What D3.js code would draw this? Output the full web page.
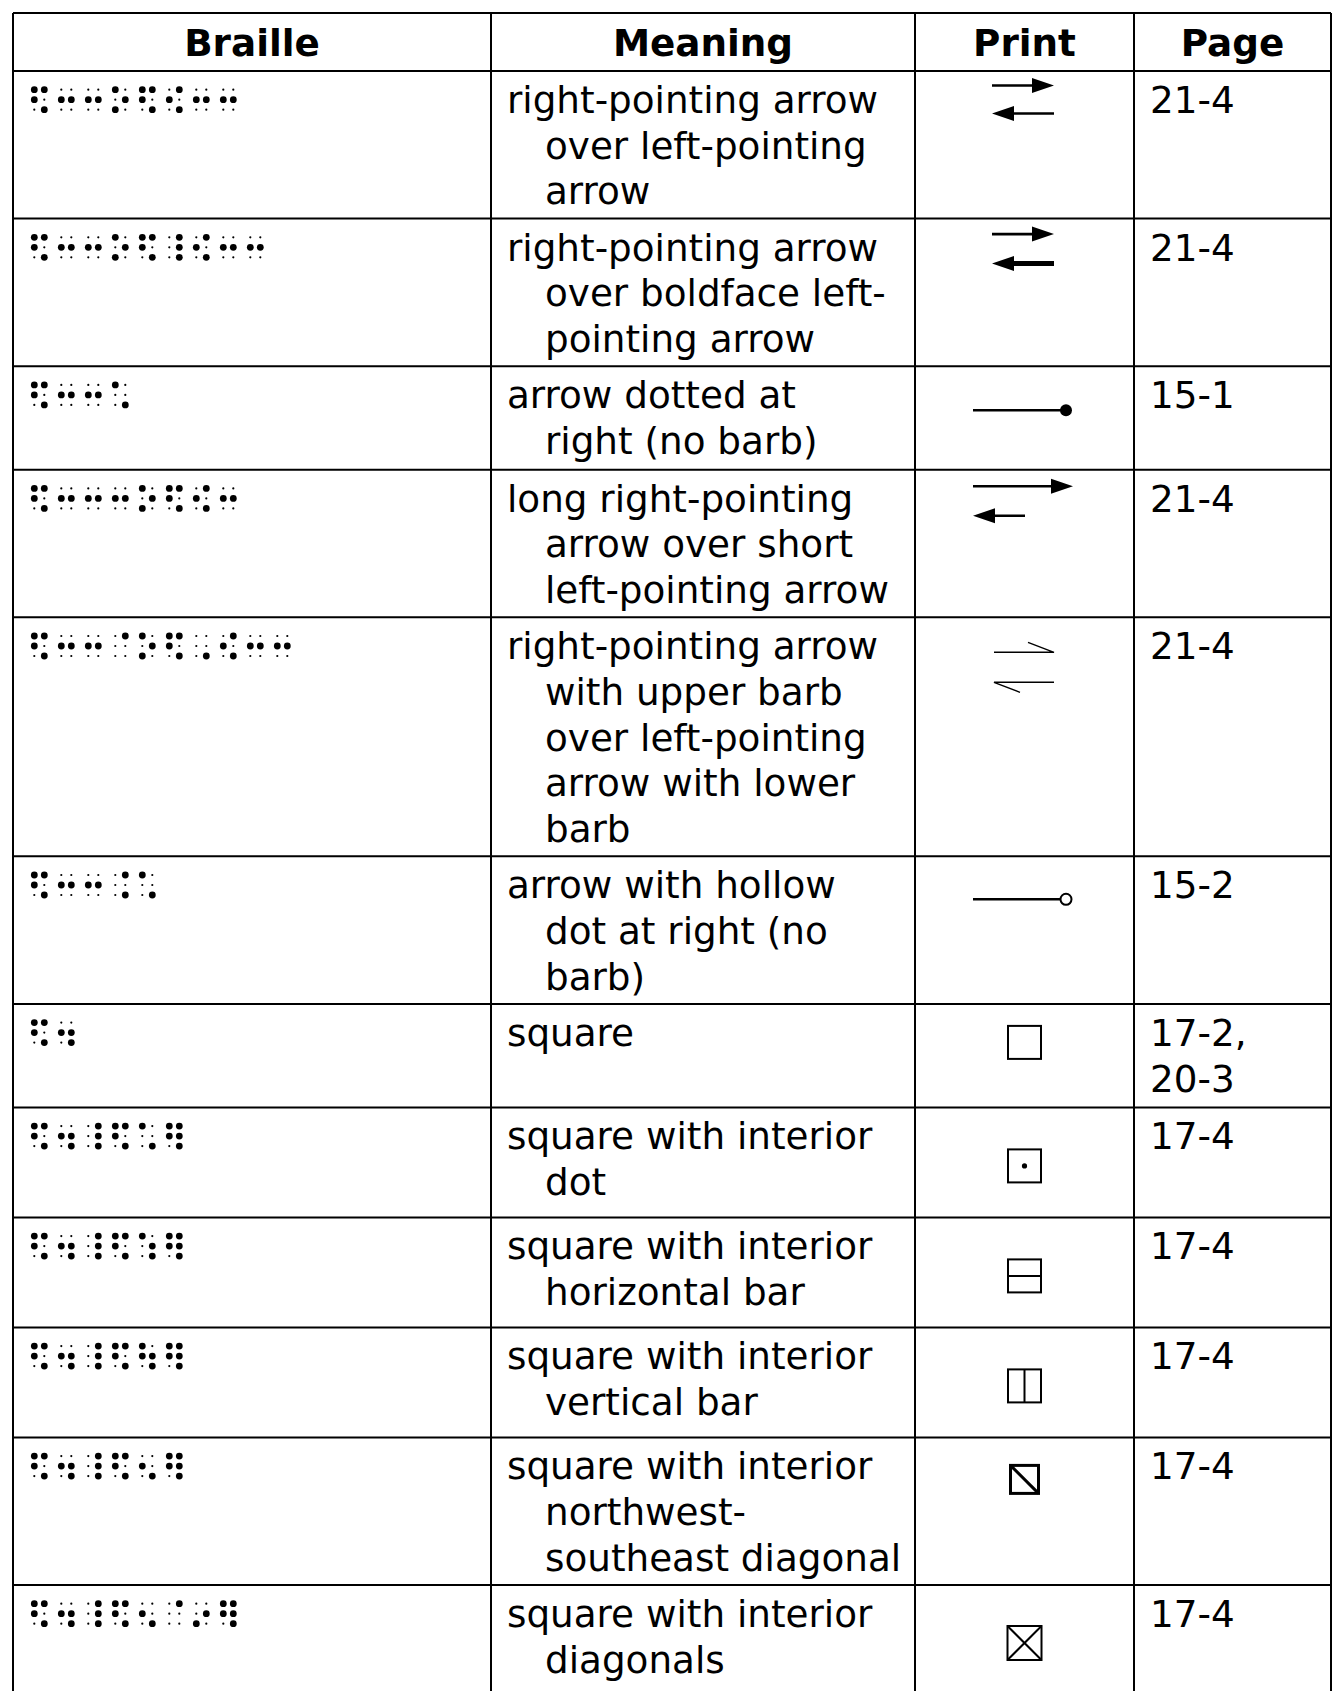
<!DOCTYPE html>
<html><head><meta charset="utf-8">
<script src="https://cdn.jsdelivr.net/npm/d3@7"></script>
<style>html,body{margin:0;padding:0;background:#fff;}</style>
</head><body>
<svg id="chart"></svg>
<script>
const headers = ["Braille", "Meaning", "Print", "Page"];
const braille = [
  ["1246","25","25","135","1246","246","25","25"],
  ["1246","25","25","135","1246","456","246","25","25"],
  ["1246","25","25","16"],
  ["1246","25","25","25","135","1246","246","25"],
  ["1246","25","25","4","135","1246","6","246","25","25"],
  ["1246","25","25","46","16"],
  ["1246","256"],
  ["1246","256","456","1246","16","12456"],
  ["1246","256","456","1246","156","12456"],
  ["1246","256","456","1246","1256","12456"],
  ["1246","256","456","1246","26","12456"],
  ["1246","256","456","1246","26","4","35","12456"]
];
const meaning = [
  ["right-pointing arrow","over left-pointing","arrow"],
  ["right-pointing arrow","over boldface left-","pointing arrow"],
  ["arrow dotted at","right (no barb)"],
  ["long right-pointing","arrow over short","left-pointing arrow"],
  ["right-pointing arrow","with upper barb","over left-pointing","arrow with lower","barb"],
  ["arrow with hollow","dot at right (no","barb)"],
  ["square"],
  ["square with interior","dot"],
  ["square with interior","horizontal bar"],
  ["square with interior","vertical bar"],
  ["square with interior","northwest-","southeast diagonal"],
  ["square with interior","diagonals"]
];
const printSymbols = ["arrowsRL","arrowsRLBold","dotRight","longShort","harpoons","hollowDot",
  "square","squareDot","squareHBar","squareVBar","squareDiag","squareX"];
const page = [["21-4"],["21-4"],["15-1"],["21-4"],["21-4"],["15-2"],["17-2,","20-3"],
  ["17-4"],["17-4"],["17-4"],["17-4"],["17-4"]];

const W = 1344, H = 1691;
const svg = d3.select("#chart").attr("width", W).attr("height", H);
const colX = [13, 491, 915, 1134, 1331];
const tableTop = 13, headH = 58;
const lineH = 45.7, pad = 10.5, fs = 37.3;
const font = "'DejaVu Sans', Verdana, sans-serif";

const nLines = meaning.map((m, i) => Math.max(m.length, page[i].length));
const rowH = nLines.map((n, i) => {
  let h = n * lineH + pad;
  h = Math.max(h, 103.5);
  if (["squareDot","squareHBar","squareVBar","squareX"].includes(printSymbols[i])) h = Math.max(h, 110);
  return h;
});
const rowTop = [];
let acc = tableTop + headH;
rowH.forEach(h => { rowTop.push(acc); acc += h; });
const tableBottom = acc;

const g = svg.append("g");
headers.forEach((t, j) => {
  g.append("text").attr("x", (colX[j] + colX[j+1]) / 2).attr("y", tableTop + 43)
    .attr("text-anchor", "middle").attr("font-family", font).attr("font-weight", "bold")
    .attr("font-size", fs).attr("fill", "#000").text(t);
});

const dotPos = {1:[0,0],2:[0,1],3:[0,2],4:[1,0],5:[1,1],6:[1,2]};
braille.forEach((cells, i) => {
  const y0 = rowTop[i] + 18.7;
  cells.forEach((c, k) => {
    const x0 = 34.3 + k * 27;
    for (let d = 1; d <= 6; d++) {
      const on = c.includes(String(d));
      g.append("circle").attr("cx", x0 + dotPos[d][0] * 10).attr("cy", y0 + dotPos[d][1] * 10)
        .attr("r", on ? 3.4 : 1.1).attr("fill", "#000");
    }
  });
});

meaning.forEach((lines, i) => {
  lines.forEach((t, k) => {
    g.append("text").attr("x", k === 0 ? 507 : 545).attr("y", rowTop[i] + 42 + k * lineH)
      .attr("font-family", font).attr("font-size", fs).attr("fill", "#000").text(t);
  });
});
page.forEach((lines, i) => {
  lines.forEach((t, k) => {
    g.append("text").attr("x", 1150).attr("y", rowTop[i] + 42 + k * lineH)
      .attr("font-family", font).attr("font-size", fs).attr("fill", "#000").text(t);
  });
});

function arrowR(sel, x1, x2, y, sw) {
  sel.append("line").attr("x1", x1).attr("x2", x2 - 16).attr("y1", y).attr("y2", y)
    .attr("stroke", "#000").attr("stroke-width", sw);
  sel.append("path").attr("d", `M${x2},${y} L${x2-22},${y-7.5} L${x2-22},${y+7.5} Z`).attr("fill", "#000");
}
function arrowL(sel, x1, x2, y, sw) {
  sel.append("line").attr("x1", x1 + 16).attr("x2", x2).attr("y1", y).attr("y2", y)
    .attr("stroke", "#000").attr("stroke-width", sw);
  sel.append("path").attr("d", `M${x1},${y} L${x1+22},${y-7.5} L${x1+22},${y+7.5} Z`).attr("fill", "#000");
}
const cx = (colX[2] + colX[3]) / 2;
printSymbols.forEach((s, i) => {
  const t = rowTop[i];
  const p = g.append("g");
  const sq = (y, size) => {
    p.append("rect").attr("x", cx - size/2).attr("y", y).attr("width", size).attr("height", size)
      .attr("fill", "none").attr("stroke", "#000").attr("stroke-width", 2);
    return [cx - size/2, y, size];
  };
  if (s === "arrowsRL") { arrowR(p, 992, 1054, t + 14.5, 2.6); arrowL(p, 992, 1054, t + 42.5, 2.6); }
  else if (s === "arrowsRLBold") { arrowR(p, 992, 1054, t + 15.5, 2.6); arrowL(p, 992, 1054, t + 45, 5); }
  else if (s === "dotRight") {
    p.append("line").attr("x1", 973).attr("x2", 1064).attr("y1", t + 44).attr("y2", t + 44).attr("stroke", "#000").attr("stroke-width", 2.4);
    p.append("circle").attr("cx", 1066).attr("cy", t + 44).attr("r", 6).attr("fill", "#000");
  }
  else if (s === "longShort") { arrowR(p, 973, 1073, t + 16.5, 2.6); arrowL(p, 973, 1025, t + 46, 2.6); }
  else if (s === "harpoons") {
    const y1 = t + 35, y2 = t + 65;
    p.append("path").attr("d", `M994,${y1} L1054,${y1} L1028,${y1-10}`).attr("fill", "none").attr("stroke", "#000").attr("stroke-width", 1.4);
    p.append("path").attr("d", `M1054,${y2} L994,${y2} L1020,${y2+10}`).attr("fill", "none").attr("stroke", "#000").attr("stroke-width", 1.4);
  }
  else if (s === "hollowDot") {
    p.append("line").attr("x1", 973).attr("x2", 1060).attr("y1", t + 43).attr("y2", t + 43).attr("stroke", "#000").attr("stroke-width", 2.4);
    p.append("circle").attr("cx", 1066).attr("cy", t + 43).attr("r", 5.5).attr("fill", "none").attr("stroke", "#000").attr("stroke-width", 2);
  }
  else if (s === "square") { sq(t + 22, 33); }
  else if (s === "squareDot") { const [x, y, z] = sq(t + 42, 33); p.append("circle").attr("cx", x + z/2).attr("cy", y + z/2).attr("r", 2.6).attr("fill", "#000"); }
  else if (s === "squareHBar") { const [x, y, z] = sq(t + 42, 33); p.append("line").attr("x1", x).attr("x2", x + z).attr("y1", y + z/2).attr("y2", y + z/2).attr("stroke", "#000").attr("stroke-width", 2); }
  else if (s === "squareVBar") { const [x, y, z] = sq(t + 42, 33); p.append("line").attr("x1", x + z/2).attr("x2", x + z/2).attr("y1", y).attr("y2", y + z).attr("stroke", "#000").attr("stroke-width", 2); }
  else if (s === "squareDiag") {
    const z = 28, x = cx - z/2, y = t + 28;
    p.append("rect").attr("x", x).attr("y", y).attr("width", z).attr("height", z).attr("fill", "none").attr("stroke", "#000").attr("stroke-width", 3);
    p.append("line").attr("x1", x).attr("y1", y).attr("x2", x + z).attr("y2", y + z).attr("stroke", "#000").attr("stroke-width", 3);
  }
  else if (s === "squareX") {
    const [x, y, z] = sq(t + 41, 34);
    p.append("line").attr("x1", x).attr("y1", y).attr("x2", x + z).attr("y2", y + z).attr("stroke", "#000").attr("stroke-width", 2);
    p.append("line").attr("x1", x + z).attr("y1", y).attr("x2", x).attr("y2", y + z).attr("stroke", "#000").attr("stroke-width", 2);
  }
});

const grid = svg.append("g").attr("stroke", "#000").attr("stroke-width", 2);
[tableTop, tableTop + headH, ...rowTop.slice(1), tableBottom].forEach(y => {
  grid.append("line").attr("x1", colX[0]).attr("x2", colX[4]).attr("y1", y).attr("y2", y);
});
colX.forEach(x => {
  grid.append("line").attr("x1", x).attr("x2", x).attr("y1", tableTop).attr("y2", tableBottom);
});
</script>
</body></html>
